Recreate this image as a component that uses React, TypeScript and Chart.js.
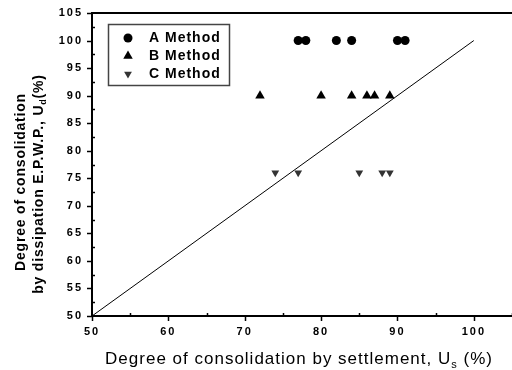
import React, { useEffect, useRef } from "react";
import { Chart, registerables } from "chart.js";

Chart.register(...registerables);

const aX = [77, 78, 82, 84, 90, 91];
const aY = [100, 100, 100, 100, 100, 100];
const bX = [72, 80, 84, 86, 87, 89];
const bY = [90, 90, 90, 90, 90, 90];
const cX = [74, 77, 85, 88, 89];
const cY = [76, 76, 76, 76, 76];
const lineX = [50, 100];
const lineY = [50, 100];
const seriesNames = ["A Method", "B Method", "C Method"];
const xTitle = "Degree of consolidation by settlement, U";
const xTitleSub = "s";
const xTitleEnd = " (%)";
const yTitle1 = "Degree of consolidation";
const yTitle2 = "by dissipation E.P.W.P., U";
const yTitle2Sub = "d";
const yTitle2End = "(%)";

const toPts = (xs: number[], ys: number[]) => xs.map((x, i) => ({ x, y: ys[i] }));

type Seg = { t: string; sub?: boolean };

function drawRich(ctx: CanvasRenderingContext2D, segs: Seg[], cx: number, cy: number, size: number, weight: string, spacing: string) {
  ctx.save();
  ctx.letterSpacing = spacing;
  ctx.textBaseline = "alphabetic";
  ctx.textAlign = "left";
  const fam = "'Liberation Sans', Arial, sans-serif";
  const widths = segs.map((s) => {
    ctx.font = `${weight} ${s.sub ? Math.round(size * 0.62) : size}px ${fam}`;
    return ctx.measureText(s.t).width;
  });
  const total = widths.reduce((a, b) => a + b, 0);
  let x = cx - total / 2;
  const base = cy + size * 0.36;
  segs.forEach((s, i) => {
    ctx.font = `${weight} ${s.sub ? Math.round(size * 0.62) : size}px ${fam}`;
    ctx.fillText(s.t, x, s.sub ? base + size * 0.22 : base);
    x += widths[i];
  });
  ctx.restore();
}

function marker(ctx: CanvasRenderingContext2D, kind: string, x: number, y: number, r: number, color: string) {
  ctx.save();
  ctx.fillStyle = color;
  ctx.beginPath();
  if (kind === "circle") {
    ctx.arc(x, y, r, 0, Math.PI * 2);
  } else if (kind === "up") {
    ctx.moveTo(x, y - r);
    ctx.lineTo(x + r * 0.866, y + r * 0.5);
    ctx.lineTo(x - r * 0.866, y + r * 0.5);
    ctx.closePath();
  } else {
    ctx.moveTo(x, y + r);
    ctx.lineTo(x + r * 0.866, y - r * 0.5);
    ctx.lineTo(x - r * 0.866, y - r * 0.5);
    ctx.closePath();
  }
  ctx.fill();
  ctx.restore();
}

const decorPlugin = {
  id: "decor",
  beforeDraw(chart: any) {
    chart.ctx.letterSpacing = "2px";
  },
  afterDraw(chart: any) {
    const ctx: CanvasRenderingContext2D = chart.ctx;
    const xs = chart.scales.x;
    const ys = chart.scales.y;
    const ca = chart.chartArea;
    ctx.save();
    ctx.letterSpacing = "0px";
    ctx.strokeStyle = "#000";
    ctx.lineWidth = 1.5;
    for (let v = 50; v <= 105.01; v += 2.5) {
      const py = Math.round(ys.getPixelForValue(v)) + 0.5;
      ctx.beginPath();
      if (v % 5 === 0) {
        ctx.moveTo(ca.left - 5, py);
        ctx.lineTo(ca.left, py);
      } else {
        ctx.moveTo(ca.left, py);
        ctx.lineTo(ca.left + 3, py);
      }
      ctx.stroke();
    }
    for (let v = 50; v <= 105.01; v += 5) {
      const px = Math.round(xs.getPixelForValue(v)) + 0.5;
      ctx.beginPath();
      if (v % 10 === 0) {
        ctx.moveTo(px, ca.bottom);
        ctx.lineTo(px, ca.bottom + 5);
      } else {
        ctx.moveTo(px, ca.bottom);
        ctx.lineTo(px, ca.bottom - 3);
      }
      ctx.stroke();
    }
    ctx.lineWidth = 2;
    ctx.beginPath();
    ctx.moveTo(ca.left, ca.top);
    ctx.lineTo(ca.right, ca.top);
    ctx.stroke();
    ctx.lineWidth = 1.5;
    ctx.strokeStyle = "#444";
    ctx.strokeRect(108.5, 24.5, 121, 61);
    const kinds = ["circle", "up", "down"];
    const colors = ["#000", "#000", "#333"];
    const rs = [4.5, 5.5, 4.5];
    seriesNames.forEach((n, i) => {
      const y = 38 + i * 18;
      marker(ctx, kinds[i], 128, y, rs[i], colors[i]);
      ctx.fillStyle = "#000";
      ctx.letterSpacing = "1px";
      ctx.font = "bold 14px 'Liberation Sans', Arial, sans-serif";
      ctx.textBaseline = "middle";
      ctx.textAlign = "left";
      ctx.fillText(n, 149, y + 0.5);
    });
    ctx.fillStyle = "#000";
    drawRich(ctx, [{ t: xTitle }, { t: xTitleSub, sub: true }, { t: xTitleEnd }], 299, 358, 17, "normal", "1px");
    ctx.save();
    ctx.translate(20, 182);
    ctx.rotate(-Math.PI / 2);
    drawRich(ctx, [{ t: yTitle1 }], 0, 0, 14, "bold", "0.8px");
    ctx.restore();
    ctx.save();
    ctx.translate(38, 184);
    ctx.rotate(-Math.PI / 2);
    drawRich(ctx, [{ t: yTitle2 }, { t: yTitle2Sub, sub: true }, { t: yTitle2End }], 0, 0, 14, "bold", "0.8px");
    ctx.restore();
    ctx.restore();
  },
};

export default function App() {
  const ref = useRef<HTMLCanvasElement>(null);
  useEffect(() => {
    document.body.style.margin = "0";
    const chart = new Chart(ref.current!, {
      type: "scatter",
      data: {
        datasets: [
          {
            label: seriesNames[0],
            data: toPts(aX, aY),
            pointStyle: "circle",
            pointRadius: 4.5,
            backgroundColor: "#000",
            borderColor: "#000",
            borderWidth: 0,
          },
          {
            label: seriesNames[1],
            data: toPts(bX, bY),
            pointStyle: "triangle",
            pointRadius: 5.5,
            backgroundColor: "#000",
            borderColor: "#000",
            borderWidth: 0,
          },
          {
            label: seriesNames[2],
            data: toPts(cX, cY),
            pointStyle: "triangle",
            rotation: 180,
            pointRadius: 4.5,
            backgroundColor: "#333",
            borderColor: "#333",
            borderWidth: 0,
          },
          {
            type: "line",
            label: "line",
            data: toPts(lineX, lineY),
            borderColor: "#000",
            borderWidth: 1,
            pointRadius: 0,
            showLine: true,
          } as any,
        ],
      },
      options: {
        animation: false,
        responsive: false,
        layout: { autoPadding: false, padding: { top: 13, right: -2, left: 0, bottom: 0 } },
        plugins: { legend: { display: false }, tooltip: { enabled: false } },
        scales: {
          x: {
            type: "linear",
            min: 50,
            max: 105,
            grid: { display: false, drawTicks: false },
            border: { display: true, color: "#000", width: 2 },
            ticks: {
              stepSize: 10,
              padding: 9,
              color: "#000",
              font: { family: "'Liberation Sans', Arial, sans-serif", size: 11, weight: "bold" },
              callback: (v: any) => (Number(v) <= 100 ? String(v) : ""),
            },
            afterFit: (s: any) => {
              s.height = 54;
              s.paddingLeft = 0;
              s.paddingRight = 0;
            },
          },
          y: {
            type: "linear",
            min: 50,
            max: 105,
            grid: { display: false, drawTicks: false },
            border: { display: true, color: "#000", width: 2 },
            ticks: {
              stepSize: 5,
              padding: 9,
              color: "#000",
              font: { family: "'Liberation Sans', Arial, sans-serif", size: 11, weight: "bold" },
            },
            afterFit: (s: any) => {
              s.width = 92;
              s.paddingTop = 0;
              s.paddingBottom = 0;
            },
          },
        },
      },
      plugins: [decorPlugin],
    });
    return () => chart.destroy();
  }, []);
  return (
    <div style={{ width: 512, height: 370 }}>
      <canvas ref={ref} width={512} height={370} style={{ width: 512, height: 370, display: "block" }} />
    </div>
  );
}
